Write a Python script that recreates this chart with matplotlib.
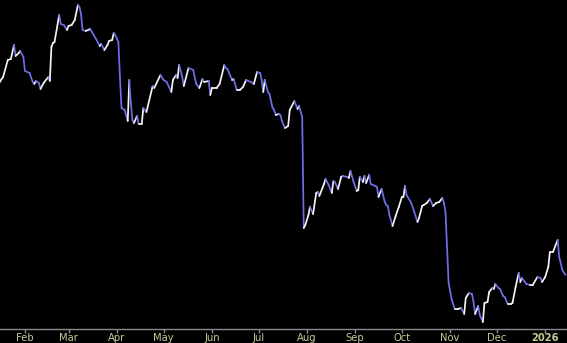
import numpy as np
import pandas as pd
import matplotlib
matplotlib.use("Agg")
import matplotlib.pyplot as plt
import matplotlib.dates as mdates
from matplotlib.collections import LineCollection

# day offsets from 2025-01-01 (trading days)
days = [15, 16, 17, 20, 22, 24, 25, 27, 28, 30, 31, 34, 36, 37, 38, 40, 41, 43, 46, 47,
        48, 49, 50, 53, 54, 56, 58, 59, 61, 63, 65, 66, 67, 68, 70, 73, 74, 77, 79, 80,
        82, 84, 85, 87, 88, 89, 91, 92, 93, 95, 96, 97, 98, 99, 100, 101, 103, 104, 106, 107,
        109, 113, 114, 118, 120, 122, 125, 126, 128, 129, 130, 132, 133, 136, 139, 141, 143, 145, 146, 149,
        150, 151, 154, 156, 159, 160, 161, 164, 165, 167, 169, 171, 173, 176, 178, 180, 182, 183, 184, 185,
        187, 188, 190, 191, 192, 194, 195, 196, 198, 200, 201, 204, 206, 207, 209, 210, 211, 213, 214, 216,
        218, 219, 220, 222, 223, 224, 226, 228, 229, 230, 232, 234, 235, 238, 239, 240, 242, 244, 245, 246,
        248, 249, 250, 252, 253, 256, 257, 258, 260, 262, 263, 264, 265, 267, 269, 271, 273, 274, 275, 276,
        279, 281, 283, 284, 286, 287, 289, 291, 293, 295, 297, 299, 300, 301, 303, 305, 307, 309, 311, 313,
        314, 316, 318, 319, 320, 322, 323, 325, 326, 328, 329, 331, 332, 333, 335, 336, 338, 339, 341, 343,
        344, 346, 348, 349, 350, 353, 355, 357, 360, 362, 363, 365, 367, 368, 370, 373, 374, 376, 378]

prices = [247, 250, 252, 269, 270, 284, 273, 276, 278, 272, 258, 256, 247, 245, 248, 246, 240, 246, 252, 248,
          282, 286, 287, 314, 305, 304, 299, 303, 304, 309, 324, 322, 315, 299, 298, 300, 297, 289, 283, 285,
          279, 284, 288, 289, 296, 294, 287, 252, 221, 219, 214, 208, 249, 226, 209, 206, 213, 205, 205, 221,
          217, 243, 241, 254, 249, 247, 237, 249, 254, 251, 264, 252, 243, 261, 259, 245, 241, 250, 247, 248,
          234, 241, 241, 245, 264, 261, 260, 249, 250, 239, 239, 242, 249, 247, 245, 257, 256, 249, 237, 249,
          237, 235, 221, 219, 214, 215, 214, 208, 201, 203, 219, 228, 220, 223, 212, 101, 104, 114, 122, 115,
          136, 137, 133, 141, 145, 150, 144, 136, 148, 147, 140, 152, 153, 152, 151, 158, 147, 138, 139, 152,
          147, 153, 146, 154, 145, 143, 142, 132, 140, 127, 124, 123, 114, 103, 113, 122, 132, 132, 143, 134,
          126, 117, 107, 111, 123, 124, 126, 130, 123, 126, 127, 131, 126, 117, 46, 29, 20, 20, 21, 15,
          31, 36, 35, 27, 15, 23, 14, 7, 26, 27, 37, 41, 40, 45, 41, 40, 33, 32, 25, 25,
          26, 42, 56, 47, 51, 45, 44, 44, 52, 51, 47, 52, 62, 77, 77, 89, 72, 59, 54]

month_ticks = ["2025-02-01", "2025-03-01", "2025-04-01", "2025-05-01", "2025-06-01", "2025-07-01",
               "2025-08-01", "2025-09-01", "2025-10-01", "2025-11-01", "2025-12-01", "2026-01-01"]
month_labels = ["Feb", "Mar", "Apr", "May", "Jun", "Jul", "Aug", "Sep", "Oct", "Nov", "Dec", "2026"]

dates = pd.Timestamp("2025-01-01") + pd.to_timedelta(days, unit="D")
x = mdates.date2num(dates.to_pydatetime())
y = np.array(prices, dtype=float)

fig = plt.figure(figsize=(5.67, 3.43), dpi=100, facecolor="black")
ax = fig.add_axes([0, 14 / 343, 1, 329 / 343])
ax.set_facecolor("black")

# white when going up, blue when going down
pts = np.column_stack([x, y]).reshape(-1, 1, 2)
segs = np.concatenate([pts[:-1], pts[1:]], axis=1)
cols = ["#f4f4f4" if d >= 0 else "#6e6ee8" for d in np.diff(y)]
lc = LineCollection(segs, colors=cols, linewidths=1.25, capstyle="round", joinstyle="round")
ax.add_collection(lc)

ax.set_xlim(x[0], x[-1] + 1)
ax.set_ylim(0, 329)

for s in ["top", "right", "left"]:
    ax.spines[s].set_visible(False)
ax.spines["bottom"].set_color("#8a8a8a")
ax.spines["bottom"].set_linewidth(1)

tick_x = mdates.date2num(pd.to_datetime(month_ticks).to_pydatetime())
ax.set_xticks(tick_x)
ax.set_xticklabels(month_labels)
ax.tick_params(axis="x", colors="#8a8a8a", length=3, width=1, pad=0, labelsize=7.2,
               labelcolor="#c8c896")
ax.get_xticklabels()[-1].set_fontweight("bold")
ax.set_yticks([])

fig.savefig("out.png", dpi=100, facecolor="black")
